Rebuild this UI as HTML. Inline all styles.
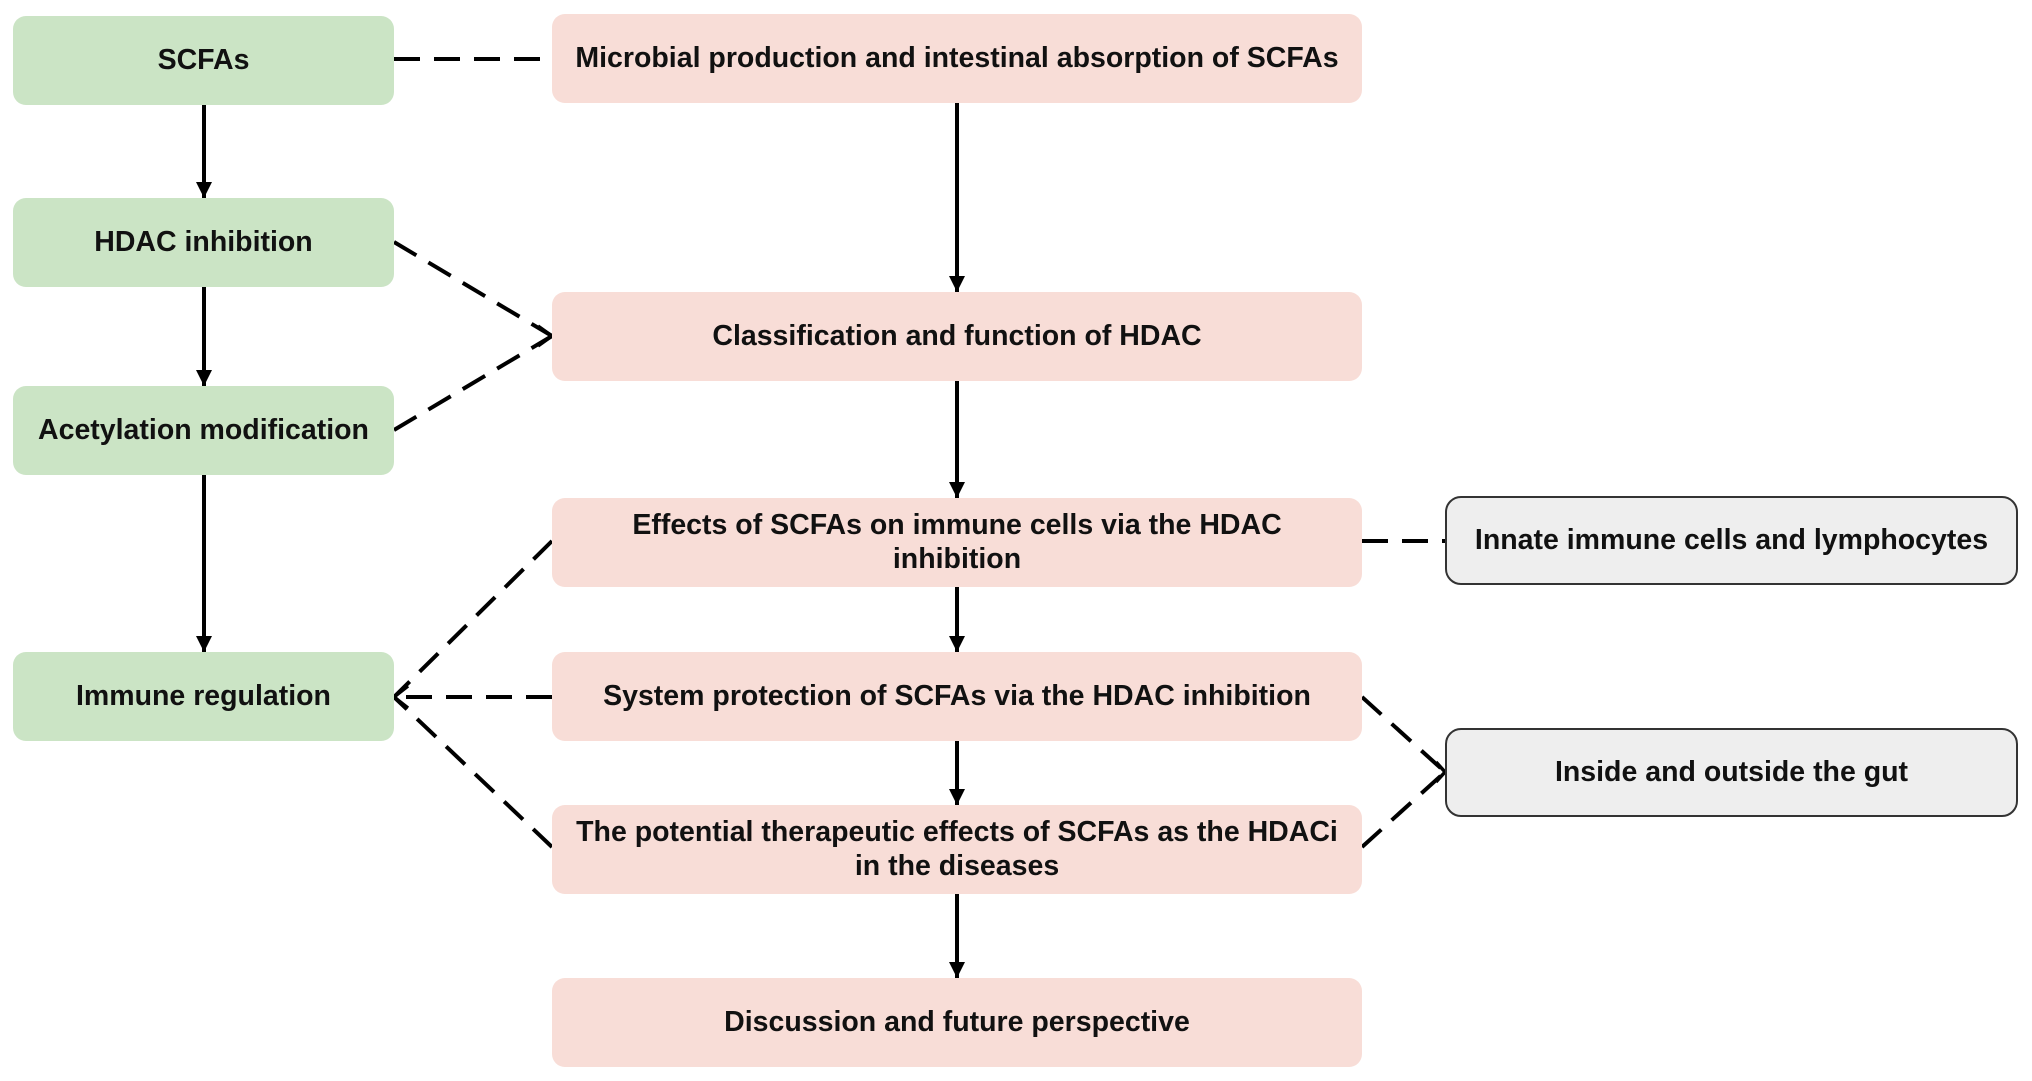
<!DOCTYPE html>
<html><head><meta charset="utf-8"><style>
body{margin:0;background:#fff;width:2032px;height:1081px;overflow:hidden;position:relative;font-family:"Liberation Sans",Arial,sans-serif;}
.b{position:absolute;display:flex;align-items:center;justify-content:center;text-align:center;font-weight:bold;font-size:28.5px;color:#111;border-radius:13px;box-sizing:border-box;line-height:1.18;}
.g{background:#cbe4c5;left:13px;width:381px;height:89px;}
.p{background:#f8ddd7;left:552px;width:810px;height:89px;padding:0 20px;}
.y{background:#eeeeee;border:2.5px solid #333;left:1445px;width:573px;height:89px;border-radius:16px;}
svg{position:absolute;left:0;top:0;}
</style></head><body>
<svg width="2032" height="1081">
<defs><marker id="a" markerWidth="16" markerHeight="20" refX="16" refY="8" orient="auto" markerUnits="userSpaceOnUse" viewBox="0 0 16 16"><path d="M0,0 L16,8 L0,16 z" fill="#000"/></marker></defs>
<g stroke="#000" stroke-width="4" fill="none">
<line x1="204" y1="104" x2="204" y2="198" marker-end="url(#a)"/>
<line x1="204" y1="286" x2="204" y2="386" marker-end="url(#a)"/>
<line x1="204" y1="474" x2="204" y2="652" marker-end="url(#a)"/>
<line x1="957" y1="102" x2="957" y2="292" marker-end="url(#a)"/>
<line x1="957" y1="380" x2="957" y2="498" marker-end="url(#a)"/>
<line x1="957" y1="586" x2="957" y2="652" marker-end="url(#a)"/>
<line x1="957" y1="740" x2="957" y2="805" marker-end="url(#a)"/>
<line x1="957" y1="893" x2="957" y2="978" marker-end="url(#a)"/>
</g>
<g stroke="#000" stroke-width="4" fill="none" stroke-dasharray="26,14">
<line x1="394" y1="59" x2="552" y2="59"/>
<line x1="394" y1="242" x2="552" y2="336"/>
<line x1="394" y1="430" x2="552" y2="336"/>
<line x1="552" y1="541" x2="394" y2="697"/>
<line x1="552" y1="697" x2="394" y2="697"/>
<line x1="552" y1="847" x2="394" y2="697"/>
<line x1="1362" y1="541" x2="1445" y2="541"/>
<line x1="1362" y1="697" x2="1445" y2="772"/>
<line x1="1362" y1="847" x2="1445" y2="772"/>
</g>
<g stroke="#000" stroke-width="3.5" fill="none">
<path d="M538,326 L552,336 L538,346"/>
<path d="M408,686 L394,697 L408,708"/>
<path d="M1436,762 L1445,772 L1436,782"/>
</g>
</svg>
<div class="b g" style="top:16px">SCFAs</div>
<div class="b g" style="top:198px">HDAC inhibition</div>
<div class="b g" style="top:386px">Acetylation modification</div>
<div class="b g" style="top:652px">Immune regulation</div>
<div class="b p" style="top:14px">Microbial production and intestinal absorption of SCFAs</div>
<div class="b p" style="top:292px">Classification and function of HDAC</div>
<div class="b p" style="top:498px">Effects of SCFAs on immune cells via the HDAC<br>inhibition</div>
<div class="b p" style="top:652px">System protection of SCFAs via the HDAC inhibition</div>
<div class="b p" style="top:805px">The potential therapeutic effects of SCFAs as the HDACi<br>in the diseases</div>
<div class="b p" style="top:978px">Discussion and future perspective</div>
<div class="b y" style="top:496px">Innate immune cells and lymphocytes</div>
<div class="b y" style="top:728px">Inside and outside the gut</div>
</body></html>
